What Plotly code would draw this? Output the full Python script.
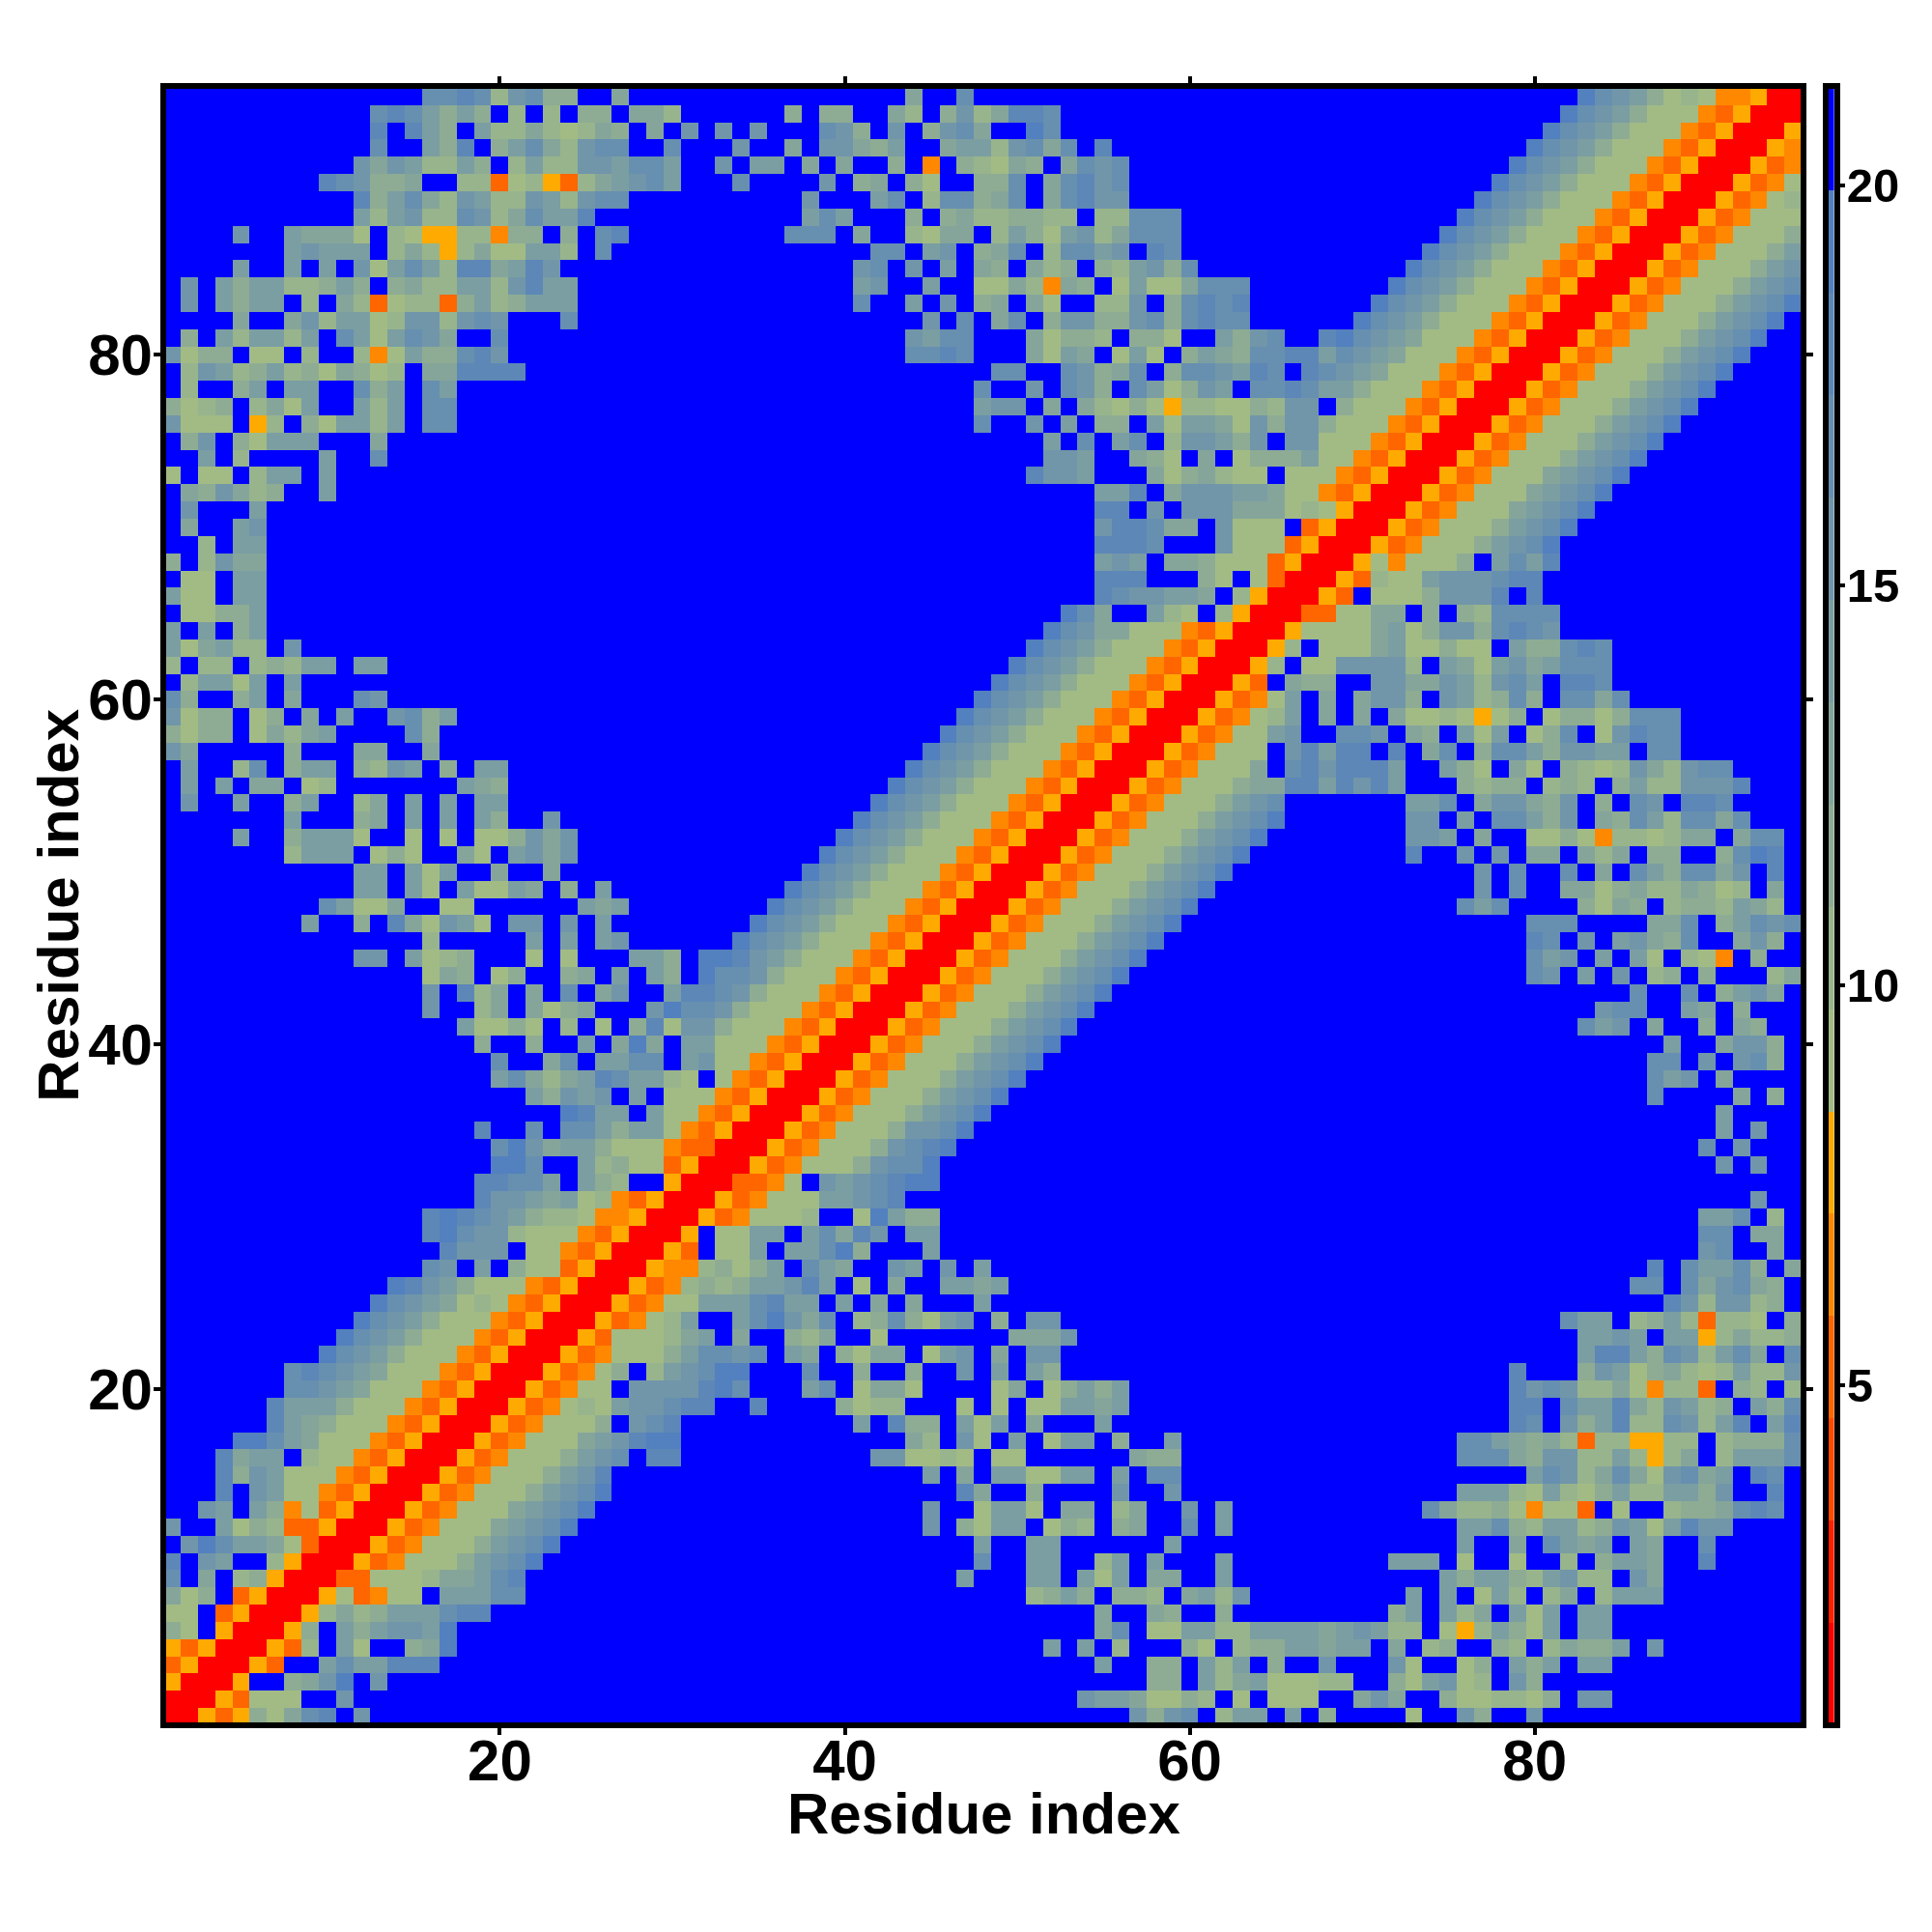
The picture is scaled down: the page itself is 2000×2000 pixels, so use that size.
import plotly.graph_objects as go
from plotly.subplots import make_subplots

# Each row lists (first column, cell codes) for columns >= row; the map is symmetric.
# Codes: R red, D dark orange, O orange, A amber, 1-9 green-to-steel shades, . blue
rows_01_12 = [
    [(1,"RRADA31478.6"),(57,"6367.25"),(64,"5.5.3....1..63..6")],
    [(2,"RRAD111..6"),(54,"65541132.1"),(64,".111..464..3112213.66")],
    [(3,"RRA..3469.6"),(58,"33.524"),(64,"511122..315612.63")],
    [(4,"RRAD..5755888"),(55,"5"),(58,"33.525"),(64,".3..6...61..13.535.55")],
    [(5,"RRAD2.51..349"),(52,"5.5.2...31.2"),(64,"3355455.4.23..32.24335.6")],
    [(6,"RRA3.5356659"),(55,"47.115522"),(64,"5555456522.1A25315.55")],
    [(7,"RRA2423555788"),(55,"4"),(58,"43"),(62,"3"),(72,"35.524.515.55")],
    [(8,"RRA1DO11.55577"),(51,"2353.332.4526"),(73,"5.5.152.24.2555")],
    [(9,"RRDD111244578"),(47,"5"),(51,"55.515.44"),(62,"5"),(75,"5355325622.64")],
    [(10,"RRADO11135679"),(48,"7"),(51,"55"),(55,"25"),(58,"5"),(62,"5"),(72,"555.1..1..2.3554"),(90,"8")],
    [(11,"RRADO11135679"),(48,"5"),(51,"55"),(59,"5"),(76,"5"),(79,"4.7545.54"),(90,"7")],
    [(12,"RRADO11145679"),(45,"6.3155.132.34"),(60,"7.5"),(76,"5573255236515866")],
]
rows_13_24 = [
    [(13,"RRADO11145679"),(45,"6..1551.44.24..6.5"),(74,"742231O11D.1..2334787")],
    [(14,"RRADO11135679"),(47,"84..3....6..6"),(76,"5552152135225536..8")],
    [(15,"RRADO1113568"),(45,"5.4.551155.5.77"),(80,"576247416745.87")],
    [(16,"RRADO1113567.88"),(42,"661121.11......433"),(76,"77743662252A24.25557")],
    [(17,"RRADO111456899"),(44,"42.61.5.155.3..5"),(76,"7754342D22AA22.23337")],
    [(18,"RRADO1113.678"),(41,"5.833.515.4...5"),(79,"87.63582276258.58")],
    [(19,"RRADO121566788..8"),(40,"3122...1.1.115545"),(79,"88.7558426523.537")],
    [(20,"RRADO11.6666897"),(38,"57.1441....14.13535"),(79,"86762241O22D.32.2")],
    [(21,"RRADO13.256799"),(38,"7..3..3..6.5.53"),(79,"8...3651342125226")],
    [(22,"RRADO111357767.54.3144.156.4.66"),(83,"58853762574.7")],
    [(23,"RRAD111245.4..324..1.......4446"),(83,"5565.55A24223")],
    [(24,"RRADO125..579647.2373156.3.66"),(82,"755.2352D221.3")],
]
rows_25_36 = [
    [(25,"RRADO115557855.5.4.4...5"),(88,"8626623")],
    [(26,"RRADO232355685.1.4..5545"),(86,"77.746743")],
    [(27,"RRAOO23135.754..65.6.5"),(87,"8.75573.4")],
    [(28,"RRAD.115.55793...5"),(90,"67..4")],
    [(29,"RRA.1155.57486.55"),(90,"77.44")],
    [(30,"RRADO1112..19533"),(90,"557.2")],
    [(31,"RRADO11155678"),(93,"6")],
    [(32,"RRDDO1.6567899")],
    [(33,"RRADO11136779"),(91,"6.6")],
    [(34,"RRADO11136789"),(90,"7.6")],
    [(35,"RRADO11136679"),(91,"5.6")],
    [(36,"RRADO11135679"),(91,"5")],
]
rows_37_54 = [
    [(37,"RRADO11135679"),(87,"7"),(92,"4"),(94,"3")],
    [(38,"RRADO11135679"),(87,"756.4")],
    [(39,"RRADO11135679"),(87,"77.6.673")],
    [(40,"RRADO11135679"),(88,"5..4663")],
    [(41,"RRADO11135679"),(83,"756.4..3.43")],
    [(42,"RRADO11135679"),(84,"677..54.3")],
    [(43,"RRADO11135679"),(86,"7..7.3564")],
    [(44,"RRADO11135679"),(80,"76.5.6.23.3...24")],
    [(45,"RRADO11135679"),(80,"756.5.51.21O.3")],
    [(46,"RRADO11135679"),(80,"87.6.56437..463")],
    [(47,"RRADO11135679"),(80,"777....447.35767")],
    [(48,"RRADO11135679"),(76,"757....3143.2332542")],
    [(49,"RRADO11135679"),(77,"6.7..44134224312.4")],
    [(50,"RRADO11135679"),(77,"6.7..7.4.7537746.8")],
    [(51,"RRADO11135679"),(73,"8..6.6.44.424.33..3798")],
    [(52,"RRADO11135679"),(73,"665.4..1131O221244.477")],
    [(53,"RRADO11135679"),(73,"66.5.77536.437527747")],
    [(54,"RRADO1113567"),(73,"557.466436.3.76.887")],
]
rows_55_69 = [
    [(55,"RRADO1113448858685"),(76,"3233.232.35226668")],
    [(56,"RRADO1114.7868885"),(75,"531.41.3212642677")],
    [(57,"RRADO111.68588.8.47.377536655.77")],
    [(58,"RRADO1156..776.43.515.137.16877")],
    [(59,"RRADO125.4.4.41121A13.13313777")],
    [(60,"RRADO15.4.4663.652373.7747")],
    [(61,"RRAD.433..6644652675.887")],
    [(62,"RRA2.1166662.5415645777")],
    [(63,"RRA2.1114511311.533787")],
    [(64,"RRA111145136637876")],
    [(65,"RRDD1144.3.327777")],
    [(66,"RRAD.11136668.8")],
    [(67,"RRAD2115666788")],
    [(68,"RRA1O1113.5758")],
    [(69,"RRADO11135679")],
]
rows_70_95 = [
    [(70,"RRADO11135679")],[(71,"RRADO11145679")],[(72,"RRADO11145679")],
    [(73,"RRADO11145679")],[(74,"RRADO11135679")],[(75,"RRADO11135679")],
    [(76,"RRADO11135679")],[(77,"RRADO11135679")],[(78,"RRADO11135679")],
    [(79,"RRADO11135679")],[(80,"RRADO11135679")],[(81,"RRADO11135679")],
    [(82,"RRADO11135679")],[(83,"RRADO11135679")],[(84,"RRADO1113567")],
    [(85,"RRADO111356")],[(86,"RRADO11135")],[(87,"RRADO1113")],
    [(88,"RRADO111")],[(89,"RRADO12")],[(90,"RRADO1")],
    [(91,"RRADO")],[(92,"RRAO")],[(93,"RRA")],[(94,"RR")],[(95,"R")],
]
code_values = {"R":1.4,"D":5.2,"O":6.5,"A":7.8,"1":9.06,"2":10.34,"3":11.62,"4":12.9,
               "5":14.18,"6":15.46,"7":16.74,"8":18.02,"9":19.3,".":21.0}
level_colors = ["#ff0000","#ff2000","#ff4800","#ff6600","#ff8800","#ffaa00",
                "#a2bb85","#98b48c","#8eac93","#85a59b","#7b9ea2","#7196a9","#678fb0","#5d87b7","#5380be",
                "#0000ff"]
residues = list(range(1, 96))
tick_values = [20, 40, 60, 80]
bar_ticks = [5, 10, 15, 20]
z_min, z_max = 0.75, 21.22

n = len(residues)
z = [[code_values["."]] * n for _ in range(n)]
for row_no, segments in enumerate(rows_01_12 + rows_13_24 + rows_25_36 + rows_37_54 + rows_55_69 + rows_70_95, start=1):
    for start, cells in segments:
        for k, ch in enumerate(cells):
            c = start + k
            z[row_no - 1][c - 1] = code_values[ch]
            z[c - 1][row_no - 1] = code_values[ch]

m = len(level_colors)
colorscale = []
for i, col in enumerate(level_colors):
    colorscale += [[i / m, col], [(i + 1) / m, col]]
step = (z_max - z_min) / m
bar_levels = [z_min + step * (i + 0.5) for i in range(m)]

# Pixel layout of the target picture (page inset is the browser's default body margin)
PAGE_INSET = 8
L, R, T, B = 171.8, 1863.6, 92.0, 1783.0
BAR_L, BAR_R = 1892.3, 1898.7
W = BAR_R - L
H = B - T
px = lambda v: (v - L) / W
py = lambda v: (B - v) / H

tf = dict(family="Liberation Sans", size=60, color="black", weight=700)
fig = make_subplots(rows=1, cols=2)
fig.add_trace(go.Heatmap(x=residues, y=residues, z=z, zmin=z_min, zmax=z_max, colorscale=colorscale,
                         showscale=False), row=1, col=1)
fig.add_trace(go.Heatmap(x=[0], y=bar_levels, z=[[v] for v in bar_levels], zmin=z_min, zmax=z_max,
                         colorscale=colorscale, showscale=False), row=1, col=2)
axis = dict(showgrid=False, zeroline=False, showline=True, linecolor="black", linewidth=6, mirror="ticks",
            ticks="outside", ticklen=7, tickwidth=4, tickcolor="black", tickvals=tick_values, tickfont=tf)
fig.update_xaxes(axis, domain=[0, px(R)], range=[0.657, 95.41], ticklabelstandoff=-25, row=1, col=1)
fig.update_yaxes(axis, domain=[0, 1], range=[0.668, 95.44], ticklabelstandoff=-11, row=1, col=1)
fig.update_xaxes(showgrid=False, zeroline=False, showline=True, linecolor="black", linewidth=6, mirror=True,
                 ticks="", showticklabels=False, domain=[px(BAR_L), 1], range=[-0.5, 0.5], row=1, col=2)
fig.update_yaxes(showgrid=False, zeroline=False, showline=True, linecolor="black", linewidth=6, mirror=True,
                 side="right", ticks="outside", ticklen=5, tickwidth=4, tickcolor="black", tickvals=bar_ticks,
                 range=[0.785, 21.21], domain=[0, 1], ticklabelstandoff=-8,
                 tickfont=dict(family="Liberation Sans", size=49, color="black", weight=700), row=1, col=2)
fig.update_layout(
    width=2000, height=2000, autosize=False, plot_bgcolor="white", paper_bgcolor="white",
    margin=dict(l=L - PAGE_INSET, r=2000 - (BAR_R - PAGE_INSET), t=T - PAGE_INSET, b=2000 - (B - PAGE_INSET), pad=0),
    annotations=[
        dict(text="Residue index", font=tf, showarrow=False, xref="paper", yref="paper",
             x=px(1018), y=py(1877), xanchor="center", yanchor="middle"),
        dict(text="Residue index", font=tf, showarrow=False, xref="paper", yref="paper", textangle=-90,
             x=px(60), y=py(937.5), xanchor="center", yanchor="middle"),
    ],
)
fig.write_html("out.html")
